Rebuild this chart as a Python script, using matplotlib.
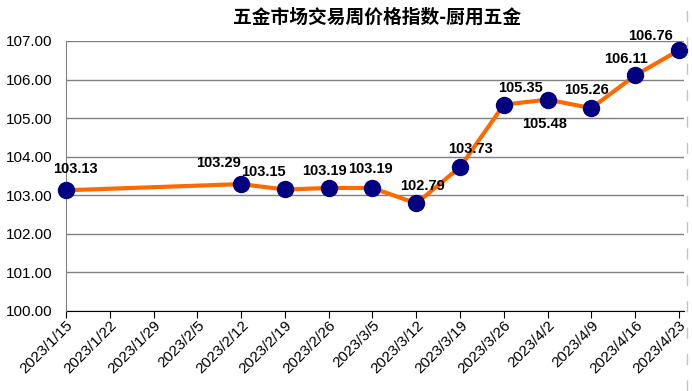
import datetime as dt

import matplotlib
matplotlib.use("Agg")
import matplotlib.dates as mdates
import matplotlib.pyplot as plt
from matplotlib.lines import Line2D
from matplotlib.transforms import ScaledTranslation

plt.rcParams["font.family"] = ["Liberation Sans", "Noto Sans CJK SC", "DejaVu Sans"]

TITLE = "五金市场交易周价格指数-厨用五金"

dates = [
    dt.date(2023, 1, 15), dt.date(2023, 2, 12), dt.date(2023, 2, 19),
    dt.date(2023, 2, 26), dt.date(2023, 3, 5), dt.date(2023, 3, 12),
    dt.date(2023, 3, 19), dt.date(2023, 3, 26), dt.date(2023, 4, 2),
    dt.date(2023, 4, 9), dt.date(2023, 4, 16), dt.date(2023, 4, 23),
]
values = [103.13, 103.29, 103.15, 103.19, 103.19, 102.79,
          103.73, 105.35, 105.48, 105.26, 106.11, 106.76]

# label offsets in pixels (dx, dy) relative to each point
label_offsets = [(9, 21), (-23, 21), (-21, 17), (-4, 17), (-2, 19), (6, 17),
                 (10, 18), (17, 17), (-3, -24), (-5, 18), (-9, 16), (-28, 14)]

tick_dates = [dt.date(2023, 1, 15) + dt.timedelta(days=7 * i) for i in range(15)]
tick_labels = [f"{d.year}/{d.month}/{d.day}" for d in tick_dates]
y_ticks = [100, 101, 102, 103, 104, 105, 106, 107]

fig = plt.figure(figsize=(6.92, 3.91), dpi=100)
ax = fig.add_axes([66 / 692, 80 / 391, (684 - 66) / 692, (311 - 41) / 391])

ax.plot(dates, values, color="#FF6A00", linewidth=3, zorder=3,
        marker="o", markersize=11.5, markerfacecolor="#000080",
        markeredgecolor="#000080", clip_on=False)

for d, v, (dx, dy) in zip(dates, values, label_offsets):
    ax.annotate(f"{v:.2f}", (d, v), xytext=(dx, dy), textcoords="offset pixels",
                ha="center", va="center", fontsize=10.5, fontweight="bold",
                color="black", zorder=4, annotation_clip=False)

ax.set_ylim(100, 107)
ax.set_yticks(y_ticks)
ax.set_yticklabels([f"{y:.2f}" for y in y_ticks], fontsize=11)
ax.set_xlim(mdates.date2num(tick_dates[0]), mdates.date2num(tick_dates[-1]) + 0.8)
ax.set_xticks(tick_dates)
ax.set_xticklabels(tick_labels, fontsize=11, rotation=45, ha="right",
                   va="top", rotation_mode="anchor")
shift = ScaledTranslation(9 / 100, -6 / 100, fig.dpi_scale_trans)
for lbl in ax.get_xticklabels():
    lbl.set_transform(lbl.get_transform() + shift)

ax.grid(True, axis="y", color="#808080", linewidth=1)
ax.set_axisbelow(True)
for side in ("top", "right"):
    ax.spines[side].set_visible(False)
ax.spines["left"].set_color("#808080")
ax.spines["bottom"].set_color("black")
ax.spines["bottom"].set_zorder(2)
ax.tick_params(axis="y", length=0, pad=10)
ax.tick_params(axis="x", direction="out", length=5, color="black", pad=0)

fig.text(377 / 692, 1 - 17 / 391, TITLE, ha="center", va="center",
         fontsize=13.5, fontweight="bold", family=["Noto Sans CJK SC", "DejaVu Sans"])

fig.add_artist(Line2D([687 / 692, 687 / 692], [0, 1], transform=fig.transFigure,
                      color="#B8C2D8", linewidth=1, linestyle=(0, (8, 11))))

fig.savefig("out.png", dpi=100)
